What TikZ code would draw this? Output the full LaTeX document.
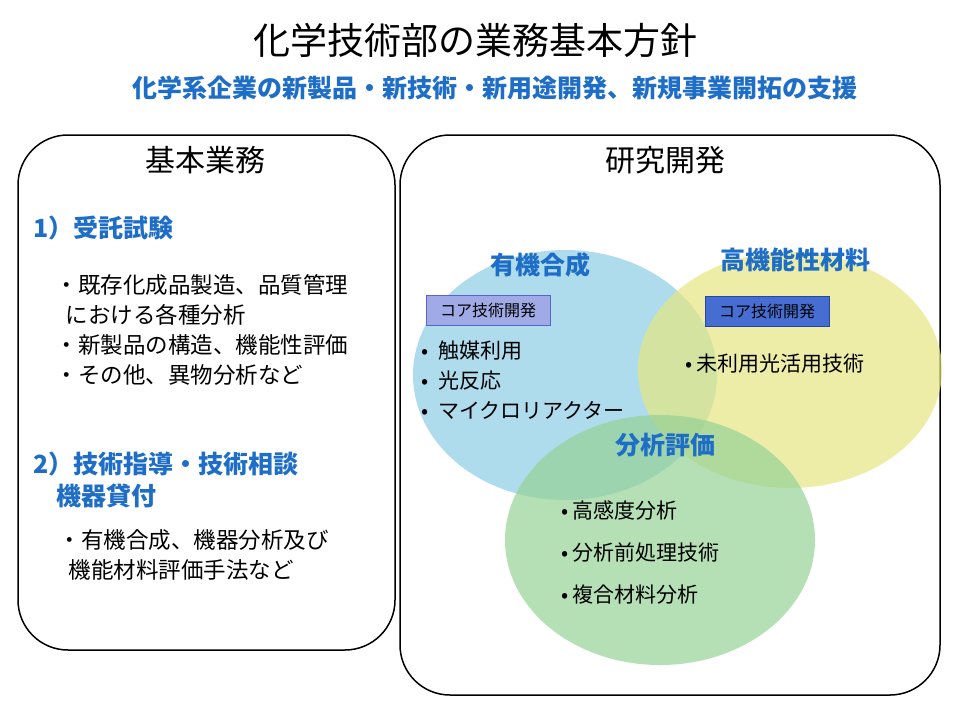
\documentclass[tikz,border=0pt]{standalone}
\usepackage{fontspec}
\setmainfont{Noto Sans CJK JP}
\definecolor{hblue}{RGB}{30,110,200}
\definecolor{cblue}{RGB}{140,205,230}
\definecolor{cyel}{RGB}{230,230,130}
\definecolor{cgreen}{RGB}{150,210,150}
\definecolor{core1}{RGB}{160,170,230}
\definecolor{core1d}{RGB}{90,100,200}
\definecolor{core2}{RGB}{70,110,210}
\definecolor{core2d}{RGB}{40,70,160}
\begin{document}
\begin{tikzpicture}[x=1pt,y=-1pt,
  panel/.style={draw=black,line width=1.5pt,rounded corners=50pt},
  head/.style={text=hblue,font=\fontsize{25}{25}\selectfont\bfseries},
  body/.style={font=\fontsize{22.5}{30}\selectfont,align=left,anchor=west},
  core/.style 2 args={draw=#2,fill=#1,font=\fontsize{16}{16}\selectfont,minimum width=124pt,minimum height=30pt}]
\useasboundingbox (0,0) rectangle (960,720);
\node (t) at (475,40) {\fontsize{37}{37}\selectfont 化学技術部の業務基本方針};
\node[text=hblue] (st) at (495,88) {\fontsize{25}{25}\selectfont\bfseries 化学系企業の新製品・新技術・新用途開発、新規事業開拓の支援};
\draw[panel] (18,135) rectangle (395,650);
\draw[panel] (400,135) rectangle (940,695);
\node (lh) at (205,160) {\fontsize{30}{30}\selectfont 基本業務};
\node (rh) at (665,160) {\fontsize{30}{30}\selectfont 研究開発};
\node[head,anchor=west] (a1) at (30,228) {1）受託試験};
\node[body] (b1) at (52,330) {・既存化成品製造、品質管理\\\ \ における各種分析\\・新製品の構造、機能性評価\\・その他、異物分析など};
\node[head,anchor=west,align=left,font=\fontsize{25}{32}\selectfont\bfseries] (a2) at (30,480) {2）技術指導・技術相談\\\ \ \ \ 機器貸付};
\node[body] (b2) at (55,555) {・有機合成、機器分析及び\\\ \ 機能材料評価手法など};
\fill[cblue,opacity=0.7] (565,375) ellipse [x radius=152,y radius=125];
\fill[cyel,opacity=0.7] (790,370) ellipse [x radius=152,y radius=118];
\fill[cgreen,opacity=0.7] (660,540) ellipse [x radius=155,y radius=125];
\node[head] (h1) at (540,265) {有機合成};
\node[head] (h2) at (795,260) {高機能性材料};
\node[head] (h3) at (665,445) {分析評価};
\node[core={core1}{core1d}] (c1) at (488,310) {コア技術開発};
\node[core={core2}{core2d}] (c2) at (767,311) {コア技術開発};
\node[body,font=\fontsize{21}{30}\selectfont] (l1) at (418,380) {•\ \ 触媒利用\\•\ \ 光反応\\•\ \ マイクロリアクター};
\node[body,font=\fontsize{21}{21}\selectfont] (l2) at (682,364) {•\,未利用光活用技術};
\node[body,font=\fontsize{21}{42}\selectfont] (l3) at (558,552) {•\,高感度分析\\•\,分析前処理技術\\•\,複合材料分析};
\end{tikzpicture}
\end{document}
